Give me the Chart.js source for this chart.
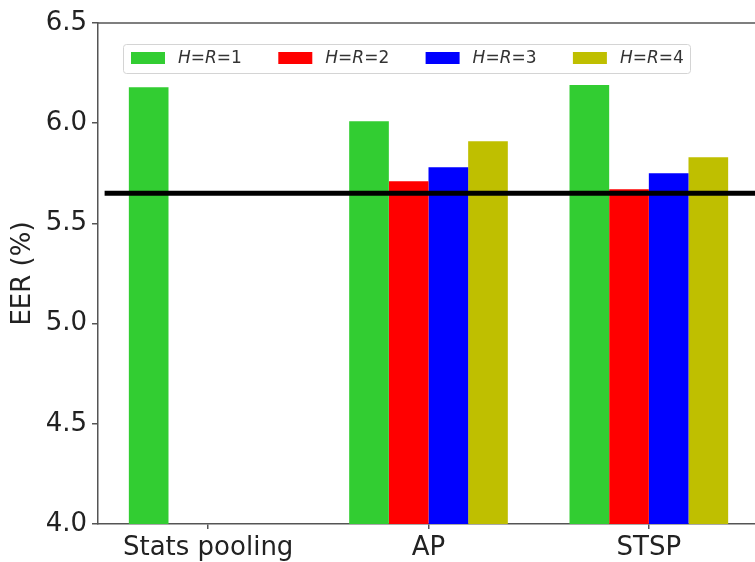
<!DOCTYPE html>
<html lang="en">
<head>
    <meta charset="UTF-8">
    <title>EER chart</title>
    <style>
        html, body {
            margin: 0;
            padding: 0;
            overflow: hidden;
            background: #fff;
        }
        .wrap {
            width: 762px;
            height: 562px;
        }
    </style>
</head>
<body>
    <div class="wrap">
        <canvas id="eerChart" width="762" height="562"></canvas>
    </div>

    <script src="https://cdn.jsdelivr.net/npm/chart.js@4.4.1/dist/chart.umd.min.js"></script>
    <script>
        // data
        const methods = ['Stats pooling', 'AP', 'STSP'];
        const hr1 = [6.18, 6.01, 6.19];
        const hr2 = [null, 5.71, 5.67];
        const hr3 = [null, 5.78, 5.75];
        const hr4 = [null, 5.91, 5.83];
        const seriesLabels = ['H=R=1', 'H=R=2', 'H=R=3', 'H=R=4'];
        const yTicks = [4.0, 4.5, 5.0, 5.5, 6.0, 6.5];
        const baseline = 5.65;       // black reference line
        const baselineFrom = -0.47;  // category index where the line starts

        const colors = ['#32cd32', '#ff0000', '#0000ff', '#bfbf00'];
        const axisColor = '#555';
        const textColor = '#222';
        const font = 'DejaVu Sans';

        // top/right spines + reference line
        const linesPlugin = {
            id: 'lines',
            afterDatasetsDraw(chart) {
                const ctx = chart.ctx;
                const area = chart.chartArea;
                const x = chart.scales.x;
                const y = chart.scales.y;
                ctx.save();
                ctx.strokeStyle = axisColor;
                ctx.lineWidth = 1.5;
                ctx.beginPath();
                ctx.moveTo(area.left, area.top);
                ctx.lineTo(area.right, area.top);
                ctx.moveTo(area.right, area.top);
                ctx.lineTo(area.right, area.bottom);
                ctx.stroke();

                const yy = y.getPixelForValue(baseline);
                ctx.strokeStyle = '#000';
                ctx.lineWidth = 5;
                ctx.beginPath();
                ctx.moveTo(x.getPixelForValue(baselineFrom), yy);
                ctx.lineTo(area.right, yy);
                ctx.stroke();
                ctx.restore();
            }
        };

        // legend inside the plot, with italic H and R
        const legendPlugin = {
            id: 'boxLegend',
            afterDraw(chart) {
                const ctx = chart.ctx;
                const area = chart.chartArea;
                const bx = area.left + 25, by = area.top + 21;
                const bw = 567, bh = 29;
                ctx.save();
                ctx.fillStyle = 'rgba(255,255,255,0.8)';
                ctx.strokeStyle = '#d4d4d4';
                ctx.lineWidth = 1;
                ctx.beginPath();
                ctx.roundRect(bx + 0.5, by + 0.5, bw, bh, 3);
                ctx.fill();
                ctx.stroke();

                const step = 147.3;
                chart.data.datasets.forEach((ds, i) => {
                    const px = bx + 8 + i * step;
                    const py = by + 8;
                    ctx.fillStyle = ds.backgroundColor;
                    ctx.fillRect(px, py, 34, 12);

                    let tx = px + 47;
                    const ty = py + 6.5;
                    ctx.fillStyle = '#333';
                    ctx.textBaseline = 'middle';
                    ctx.textAlign = 'left';
                    for (const ch of ds.label) {
                        const italic = /[A-Za-z]/.test(ch);
                        ctx.font = (italic ? 'italic ' : '') + '17px "' + font + '"';
                        ctx.fillText(ch, tx, ty);
                        tx += ctx.measureText(ch).width;
                    }
                });
                ctx.restore();
            }
        };

        const seriesData = [hr1, hr2, hr3, hr4];

        new Chart(document.getElementById('eerChart'), {
            type: 'bar',
            data: {
                labels: methods,
                datasets: seriesData.map((d, i) => ({
                    label: seriesLabels[i],
                    data: d,
                    backgroundColor: colors[i],
                    borderWidth: 0,
                    barPercentage: 1.0,
                    categoryPercentage: 0.72
                }))
            },
            options: {
                responsive: false,
                animation: false,
                devicePixelRatio: 1,
                layout: {
                    padding: { top: 23, right: 3, left: 0, bottom: 0 }
                },
                plugins: {
                    legend: { display: false },
                    tooltip: { enabled: false }
                },
                scales: {
                    x: {
                        grid: {
                            offset: false,
                            drawOnChartArea: false,
                            drawTicks: true,
                            tickLength: 5,
                            color: axisColor,
                            lineWidth: 1.5
                        },
                        border: { display: true, color: axisColor, width: 1.5 },
                        ticks: {
                            color: textColor,
                            font: { family: font, size: 26 },
                            padding: 4,
                            maxRotation: 0
                        },
                        afterFit(scale) { scale.height = 38; }
                    },
                    y: {
                        min: 4,
                        max: 6.5,
                        afterBuildTicks(scale) {
                            scale.ticks = yTicks.map(v => ({ value: v }));
                        },
                        grid: {
                            drawOnChartArea: false,
                            drawTicks: true,
                            tickLength: 6,
                            color: axisColor,
                            lineWidth: 1.5
                        },
                        border: { display: true, color: axisColor, width: 1.5 },
                        ticks: {
                            color: textColor,
                            font: { family: font, size: 26 },
                            padding: 5,
                            callback: v => Number(v).toFixed(1)
                        },
                        title: {
                            display: true,
                            text: 'EER (%)',
                            color: textColor,
                            font: { family: font, size: 26 },
                            padding: { top: 8, bottom: 0 }
                        },
                        afterFit(scale) { scale.width = 98; }
                    }
                }
            },
            plugins: [linesPlugin, legendPlugin]
        });
    </script>
</body>
</html>
